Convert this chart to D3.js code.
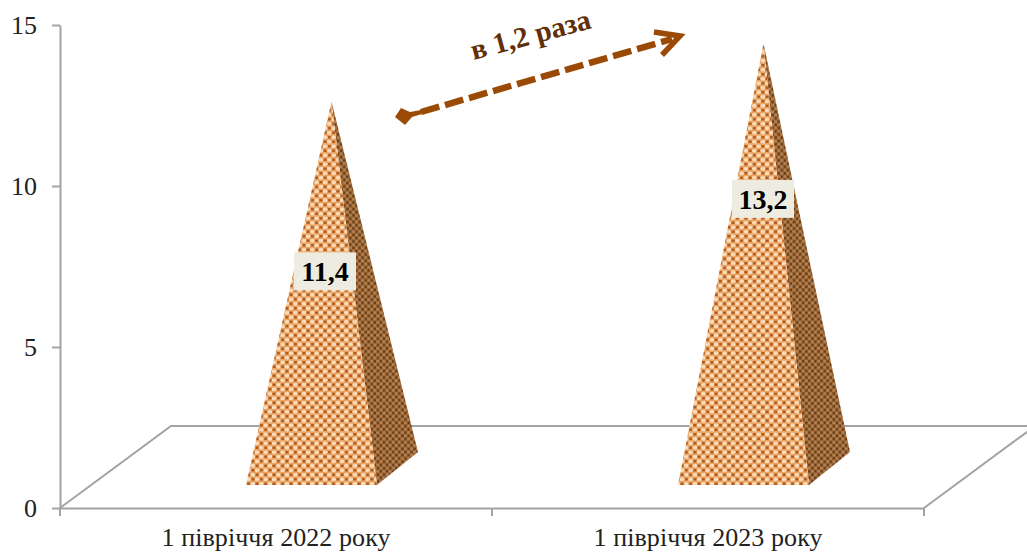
<!DOCTYPE html>
<html><head><meta charset="utf-8">
<script src="https://cdn.jsdelivr.net/npm/d3@7/dist/d3.min.js"></script>
<style>html,body{margin:0;padding:0;background:#fff;overflow:hidden}svg{display:block}</style></head>
<body><div id="c"></div>
<script>
const categories = ["1 півріччя 2022 року", "1 півріччя 2023 року"];
const values = [11.4, 13.2];
const valueLabels = ["11,4", "13,2"];
const labelLevels = [7.35, 9.6];
const yTicks = [0, 5, 10, 15];
const ratioLabel = "в 1,2 раза";

const W = 1027, H = 552;
const fontSerif = '"Liberation Serif","Times New Roman",serif';
const x0 = 60, x1 = 924, yBase = 508, yTop = 25;
const depthX = 111, depthY = -82;
const axisColor = "#a3a3a3";
const labelShift = [49, 55];
const svg = d3.select("#c").append("svg").attr("width", W).attr("height", H).attr("viewBox", `0 0 ${W} ${H}`);

const y = d3.scaleLinear().domain([0, 15]).range([yBase, yTop]);
const x = d3.scaleBand().domain(categories).range([x0, x1]);

// patterns
const defs = svg.append("defs");
function mkPattern(id, bg, dark, light, sx, sy) {
  const w = 8.5 * sx, hh = 9 * sy;
  const p = defs.append("pattern").attr("id", id).attr("patternUnits", "userSpaceOnUse")
    .attr("width", w).attr("height", hh);
  p.append("rect").attr("width", w).attr("height", hh).attr("fill", bg);
  [[0.25, 0.25], [0.75, 0.75]].forEach(([a, b]) => {
    p.append("ellipse").attr("cx", a * w).attr("cy", b * hh).attr("rx", 2.6 * sx).attr("ry", 1.8 * sy).attr("fill", light);
    p.append("rect").attr("x", ((a + 0.5) % 1) * w - 1.6 * sx).attr("y", b * hh - 1.2 * sy)
      .attr("width", 3.2 * sx).attr("height", 2.4 * sy).attr("fill", dark);
  });
}
mkPattern("front", "#e9a466", "#ad5a1a", "#fcdcb8", 1, 1);
mkPattern("side", "#94602f", "#5f3413", "#b58252", 0.72, 0.72);

// floor and walls
const line = d3.line();
svg.append("path").attr("fill", "none").attr("stroke", axisColor).attr("stroke-width", 2)
  .attr("d", line([[x0, yBase], [x0 + depthX, yBase + depthY], [W, yBase + depthY]]));
svg.append("path").attr("fill", "none").attr("stroke", axisColor).attr("stroke-width", 2)
  .attr("d", line([[x1, yBase], [x1 + depthX, yBase + depthY]]));

// axes
const gy = svg.append("g").attr("transform", `translate(${x0},0)`)
  .call(d3.axisLeft(y).tickValues(yTicks).tickSize(8).tickPadding(15).tickSizeOuter(0));
const gx = svg.append("g").attr("transform", `translate(0,${yBase})`)
  .call(d3.axisBottom(x).tickSize(0).tickPadding(24).tickSizeOuter(0));
[...x.domain(), null].forEach((d, i) => {
  const px = x0 + i * x.step();
  gx.append("line").attr("x1", px).attr("x2", px).attr("y1", 0).attr("y2", 8).attr("stroke", axisColor).attr("stroke-width", 2);
});
[gy, gx].forEach(g => {
  g.selectAll("path.domain,line").attr("stroke", axisColor).attr("stroke-width", 2);
  g.selectAll("text").attr("font-family", fontSerif).attr("font-size", 26).attr("fill", "#222");
});
gx.selectAll(".tick text").attr("dy", "0.55em").attr("textLength", 229).attr("lengthAdjust", "spacing");

// pyramids
const baseFrontY = 485, sideDY = -33;
const cxOf = d => x(d) + x.bandwidth() / 2 + 55.5;
const baseCY = baseFrontY + sideDY / 2;
const h = v => y(0) - y(v);
const pyr = svg.selectAll("g.pyr").data(categories).join("g").attr("class", "pyr");
pyr.append("path").attr("fill", "url(#side)").attr("d", (d, i) => {
  const c = cxOf(d);
  return line([[c + 45.5, baseFrontY], [c + 86.5, baseFrontY + sideDY], [c, baseCY - h(values[i])]]) + "Z";
});
pyr.append("path").attr("fill", "url(#front)").attr("d", (d, i) => {
  const c = cxOf(d);
  return line([[c - 85.5, baseFrontY], [c + 45.5, baseFrontY], [c, baseCY - h(values[i])]]) + "Z";
});

// data labels
const labW = 62, labH = 38;
const lab = svg.selectAll("g.lab").data(categories).join("g").attr("class", "lab")
  .attr("transform", (d, i) => `translate(${x(d) + x.bandwidth() / 2 + labelShift[i]},${y(labelLevels[i])})`);
lab.append("rect").attr("x", -labW / 2).attr("y", -labH / 2).attr("width", labW).attr("height", labH).attr("fill", "#eeece1");
lab.append("text").attr("text-anchor", "middle").attr("dy", "0.35em")
  .attr("font-family", fontSerif).attr("font-weight", "bold").attr("font-size", 28).attr("fill", "#000")
  .text((d, i) => valueLabels[i]);

// arrow annotation
const arrowColor = "#9a4a05";
svg.append("line").attr("x1", 421).attr("y1", 112).attr("x2", 672).attr("y2", 39)
  .attr("stroke", arrowColor).attr("stroke-width", 6.5).attr("stroke-dasharray", "19 6");
svg.append("path").attr("fill", "none").attr("stroke", arrowColor).attr("stroke-width", 5.5)
  .attr("d", line([[654, 32], [680, 36], [662, 55]]));
svg.append("path").attr("fill", arrowColor)
  .attr("d", line([[401, 108], [395, 117], [405, 125], [412, 117], [422, 114], [421, 110], [410, 112]]) + "Z");
svg.append("text").attr("transform", `translate(533,44) rotate(-15)`).attr("text-anchor", "middle")
  .attr("font-family", fontSerif).attr("font-weight", "bold").attr("font-size", 29).attr("fill", "#622f08")
  .text(ratioLabel);
</script></body></html>
